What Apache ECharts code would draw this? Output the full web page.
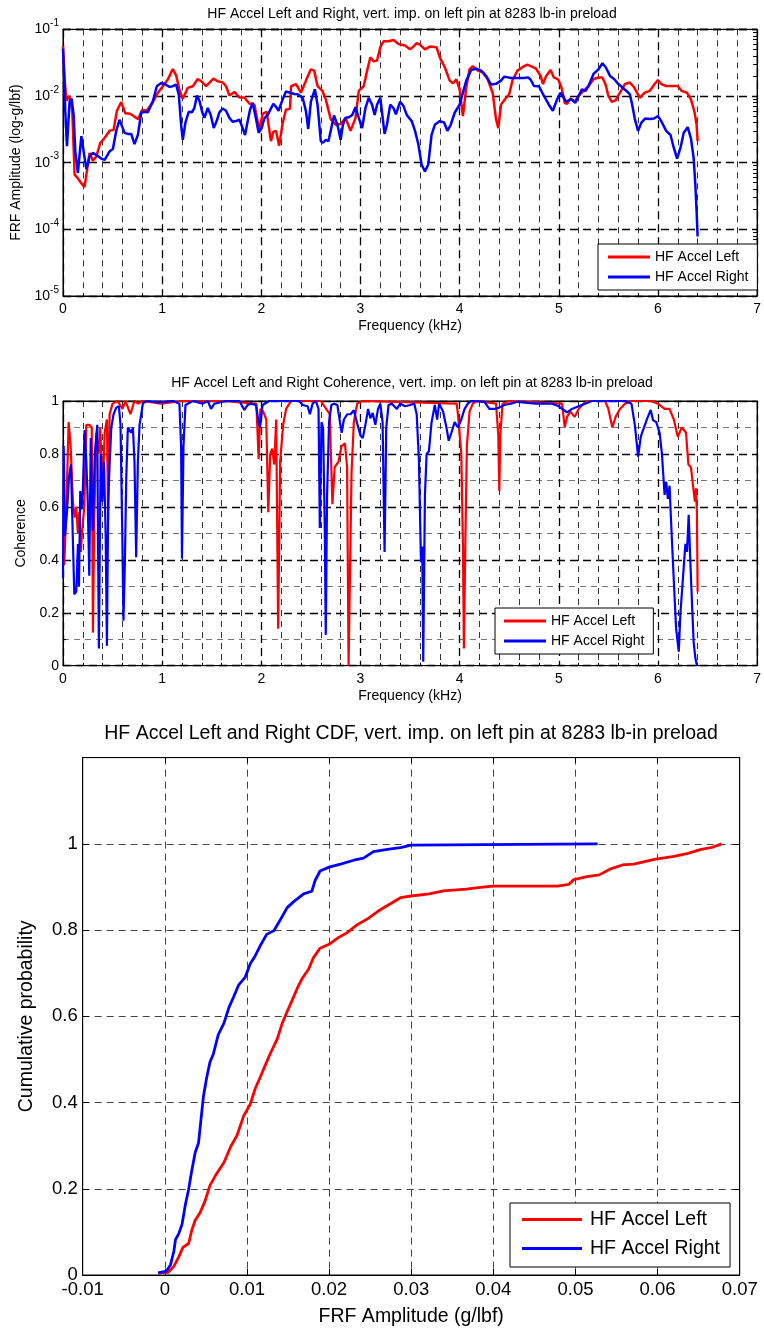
<!DOCTYPE html>
<html><head><meta charset="utf-8">
<script src="https://cdn.jsdelivr.net/npm/echarts@6.0.0/dist/echarts.min.js"></script>
<style>html,body{margin:0;padding:0;background:#fff}#c{width:764px;height:1328px}</style>
</head><body><div id="c"></div>
<script>
// ---------- Data ----------
const seriesNames = ['HF Accel Left', 'HF Accel Right'];
const titles = [
  'HF Accel Left and Right, vert. imp. on left pin at 8283 lb-in preload',
  'HF Accel Left and Right Coherence, vert. imp. on left pin at 8283 lb-in preload',
  'HF Accel Left and Right CDF, vert. imp. on left pin at 8283 lb-in preload'
];

// FRF amplitude (kHz, g/lbf)
const frfLeftFreq = [0,0.013,0.034,0.067,0.094,0.117,0.151,0.18,0.217,0.268,0.302,0.336,0.376,0.419,0.47,0.51,0.544,0.587,0.628,0.678,0.711,0.758,0.799,0.846,0.906,0.956,1.007,1.057,1.107,1.141,1.174,1.208,1.258,1.309,1.359,1.403,1.443,1.517,1.56,1.61,1.644,1.678,1.728,1.779,1.829,1.879,1.93,1.98,2.013,2.054,2.097,2.121,2.148,2.18,2.215,2.248,2.289,2.30,2.35,2.40,2.45,2.50,2.533,2.567,2.617,2.65,2.70,2.75,2.80,2.85,2.90,2.95,2.983,3.033,3.067,3.10,3.133,3.167,3.20,3.233,3.283,3.333,3.383,3.45,3.50,3.533,3.567,3.60,3.65,3.70,3.767,3.80,3.85,3.90,3.933,3.967,4.0,4.033,4.067,4.10,4.133,4.183,4.233,4.283,4.333,4.367,4.39,4.417,4.467,4.50,4.533,4.583,4.633,4.683,4.717,4.767,4.817,4.84,4.873,4.917,4.95,4.993,5.027,5.06,5.083,5.117,5.16,5.20,5.25,5.30,5.35,5.40,5.44,5.473,5.50,5.533,5.573,5.617,5.667,5.717,5.76,5.817,5.867,5.917,5.967,6.0,6.033,6.083,6.15,6.20,6.24,6.293,6.333,6.367,6.39,6.40];
const frfLeftAmp = [0.056,0.021,0.0085,0.010,0.0059,0.00066,0.00058,0.0005,0.00043,0.0014,0.00107,0.00124,0.00197,0.00234,0.0030,0.0031,0.0060,0.0081,0.0055,0.0054,0.0050,0.0045,0.0062,0.0060,0.0081,0.0111,0.0140,0.0176,0.0254,0.0204,0.0124,0.0091,0.0132,0.0140,0.0180,0.0162,0.0140,0.0182,0.0166,0.0160,0.0140,0.0102,0.0115,0.0095,0.0095,0.0077,0.0074,0.0031,0.0054,0.0058,0.0021,0.0029,0.0030,0.0018,0.0039,0.0062,0.0065,0.0140,0.0151,0.0112,0.0170,0.0251,0.024,0.0141,0.0119,0.0089,0.0045,0.0037,0.0038,0.0047,0.0030,0.0047,0.0119,0.0141,0.024,0.038,0.033,0.034,0.054,0.066,0.066,0.069,0.060,0.057,0.050,0.055,0.062,0.059,0.050,0.055,0.054,0.038,0.027,0.0170,0.0155,0.0178,0.0126,0.0050,0.0135,0.0251,0.028,0.024,0.0225,0.0178,0.0112,0.0045,0.0033,0.0074,0.0093,0.0106,0.0172,0.024,0.027,0.0295,0.028,0.026,0.020,0.0151,0.020,0.0245,0.019,0.0178,0.0135,0.0079,0.0076,0.0092,0.0082,0.0100,0.0119,0.0141,0.0178,0.019,0.019,0.0147,0.0100,0.0082,0.0086,0.0112,0.0151,0.0159,0.0135,0.0094,0.0112,0.0119,0.0151,0.0174,0.0151,0.0141,0.0141,0.0141,0.0119,0.0112,0.0089,0.0059,0.0037,0.0021];
const frfRightFreq = [0,0.01,0.023,0.04,0.067,0.087,0.107,0.124,0.15,0.185,0.235,0.268,0.302,0.336,0.386,0.42,0.47,0.503,0.537,0.57,0.587,0.621,0.654,0.688,0.721,0.755,0.789,0.822,0.856,0.906,0.946,0.99,1.03,1.074,1.107,1.141,1.168,1.191,1.208,1.235,1.268,1.30,1.325,1.352,1.376,1.403,1.426,1.46,1.49,1.52,1.55,1.577,1.61,1.644,1.678,1.711,1.745,1.779,1.805,1.836,1.86,1.886,1.913,1.946,1.973,2.003,2.03,2.064,2.09,2.121,2.148,2.174,2.208,2.248,2.29,2.332,2.367,2.417,2.45,2.473,2.50,2.54,2.567,2.60,2.623,2.65,2.677,2.70,2.733,2.767,2.80,2.823,2.85,2.883,2.917,2.95,2.983,3.017,3.05,3.083,3.117,3.143,3.167,3.20,3.243,3.267,3.30,3.333,3.357,3.40,3.433,3.467,3.517,3.55,3.583,3.617,3.65,3.683,3.717,3.75,3.80,3.843,3.877,3.91,3.95,4.0,4.033,4.067,4.117,4.167,4.217,4.267,4.317,4.367,4.417,4.45,4.517,4.583,4.65,4.69,4.717,4.75,4.80,4.85,4.90,4.94,4.983,5.017,5.05,5.073,5.10,5.133,5.167,5.20,5.233,5.267,5.30,5.35,5.40,5.44,5.473,5.517,5.56,5.60,5.64,5.683,5.717,5.74,5.767,5.80,5.833,5.873,5.917,5.96,6.0,6.033,6.083,6.127,6.16,6.193,6.227,6.26,6.30,6.333,6.36,6.377,6.39,6.40];
const frfRightAmp = [0.051,0.0234,0.0059,0.00176,0.0083,0.0091,0.0052,0.00148,0.0007,0.0025,0.0008,0.00124,0.0014,0.0013,0.00115,0.0011,0.00148,0.0016,0.0030,0.0044,0.0044,0.0028,0.0027,0.0027,0.0019,0.0026,0.0056,0.0058,0.0057,0.0083,0.0140,0.0157,0.0150,0.0137,0.0140,0.0148,0.0105,0.0037,0.0022,0.0040,0.0058,0.0057,0.0066,0.0102,0.0085,0.0058,0.0047,0.0066,0.0052,0.0033,0.0042,0.0057,0.0065,0.0060,0.0047,0.0041,0.0042,0.0044,0.0035,0.0026,0.0040,0.0062,0.0079,0.0046,0.0028,0.0033,0.0046,0.0052,0.0062,0.0076,0.0069,0.0060,0.0083,0.0117,0.0112,0.0107,0.0106,0.0094,0.0059,0.0032,0.0082,0.0126,0.0074,0.0021,0.0020,0.0022,0.0021,0.0030,0.0051,0.0037,0.0022,0.0037,0.0047,0.0048,0.0052,0.0068,0.0047,0.0033,0.0066,0.0094,0.0074,0.0052,0.0074,0.0094,0.0027,0.0037,0.0074,0.0066,0.0053,0.0082,0.0071,0.0052,0.0042,0.0030,0.0019,0.00093,0.00074,0.00093,0.0026,0.0037,0.0042,0.0040,0.0030,0.0037,0.0056,0.0074,0.0112,0.0170,0.0245,0.0257,0.024,0.020,0.0148,0.0152,0.0170,0.0195,0.0186,0.0186,0.0186,0.019,0.0175,0.0141,0.0140,0.0100,0.0074,0.0060,0.0089,0.0112,0.0095,0.0082,0.0086,0.0089,0.0079,0.0100,0.0126,0.0119,0.0141,0.0214,0.0251,0.031,0.027,0.020,0.0178,0.0151,0.0135,0.0119,0.0106,0.0074,0.0045,0.0030,0.0040,0.0046,0.0045,0.0046,0.0050,0.0042,0.0030,0.0026,0.00166,0.00115,0.00166,0.0028,0.0034,0.0023,0.00118,0.00047,0.000186,0.000078];

// Coherence (kHz, -)
const cohLeftFreq = [0,0.013,0.034,0.057,0.077,0.10,0.117,0.134,0.15,0.165,0.18,0.195,0.215,0.235,0.265,0.29,0.302,0.315,0.336,0.36,0.376,0.40,0.42,0.443,0.455,0.47,0.50,0.55,0.60,0.63,0.68,0.72,0.76,0.80,0.99,1.2,1.6,1.95,1.973,1.99,2.02,2.05,2.07,2.09,2.11,2.13,2.15,2.17,2.19,2.22,2.25,2.30,2.6,2.69,2.717,2.74,2.777,2.81,2.843,2.865,2.88,2.91,2.933,2.967,3.017,3.97,3.983,4.017,4.033,4.043,4.057,4.073,4.10,4.133,4.17,4.367,4.39,4.40,4.41,4.433,4.5,5.033,5.06,5.083,5.117,5.16,5.20,5.25,5.30,5.467,5.50,5.54,5.573,5.617,5.667,5.733,5.933,6.0,6.067,6.117,6.16,6.20,6.24,6.283,6.307,6.333,6.36,6.373,6.383,6.393,6.40];
const cohLeftVal = [0.50,0.38,0.60,0.92,0.83,0.62,0.56,0.60,0.50,0.58,0.43,0.52,0.60,0.91,0.91,0.90,0.125,0.55,0.88,0.80,0.90,0.65,0.88,0.93,0.55,0.95,0.99,1.0,0.97,1.0,0.95,1.0,0.99,1.0,0.99,1.0,1.0,0.99,0.78,0.97,0.96,0.93,0.58,0.80,0.82,0.76,0.93,0.14,0.77,0.91,0.97,1.0,1.0,0.95,0.61,0.75,0.77,0.83,0.84,0.75,0.0,0.73,0.92,0.99,1.0,0.99,0.95,0.80,0.46,0.065,0.45,0.83,0.96,0.99,1.0,0.99,0.87,0.66,0.87,0.99,1.0,0.99,0.90,0.94,0.96,0.94,0.97,0.99,1.0,1.0,0.97,0.90,0.94,0.97,0.99,1.0,1.0,0.99,0.97,0.97,0.93,0.865,0.90,0.88,0.76,0.75,0.66,0.62,0.67,0.58,0.28];
const cohRightFreq = [0,0.007,0.02,0.04,0.06,0.08,0.10,0.114,0.134,0.151,0.161,0.174,0.188,0.20,0.218,0.235,0.248,0.265,0.28,0.29,0.302,0.32,0.346,0.352,0.362,0.38,0.396,0.413,0.43,0.443,0.456,0.47,0.487,0.51,0.537,0.564,0.58,0.597,0.61,0.624,0.638,0.654,0.671,0.688,0.705,0.721,0.738,0.755,0.772,0.789,0.805,0.839,0.973,1.107,1.174,1.191,1.20,1.215,1.235,1.309,1.409,1.46,1.493,1.527,1.644,1.779,1.829,1.862,1.896,1.946,1.973,1.987,2.013,2.08,2.248,2.383,2.417,2.467,2.49,2.517,2.55,2.577,2.59,2.607,2.623,2.64,2.65,2.663,2.683,2.707,2.733,2.767,2.793,2.81,2.833,2.867,2.90,2.933,2.967,3.0,3.023,3.05,3.077,3.10,3.123,3.15,3.177,3.20,3.223,3.243,3.26,3.283,3.317,3.367,3.40,3.45,3.50,3.543,3.567,3.59,3.61,3.623,3.633,3.65,3.667,3.69,3.717,3.75,3.773,3.793,3.833,3.867,3.89,3.917,3.95,3.983,4.017,4.05,4.083,4.117,4.25,4.30,4.35,4.40,4.45,4.517,4.583,4.767,4.933,5.0,5.05,5.083,5.133,5.20,5.267,5.333,5.667,5.733,5.767,5.80,5.827,5.86,5.893,5.927,5.95,5.983,6.017,6.04,6.067,6.083,6.10,6.117,6.133,6.16,6.183,6.21,6.227,6.25,6.277,6.293,6.31,6.327,6.343,6.36,6.377,6.393];
const cohRightVal = [0.33,0.83,0.49,0.58,0.71,0.76,0.47,0.27,0.28,0.46,0.30,0.66,0.59,0.66,0.89,0.77,0.645,0.34,0.86,0.65,0.51,0.80,0.91,0.52,0.065,0.80,0.62,0.77,0.50,0.075,0.62,0.76,0.90,0.95,0.975,0.98,0.91,0.52,0.17,0.39,0.71,0.90,0.89,0.88,0.90,0.77,0.41,0.77,0.91,0.95,0.99,1.0,0.995,1.0,0.99,0.83,0.405,0.83,0.985,1.0,0.99,1.0,0.97,0.99,1.0,1.0,0.966,0.985,0.99,0.985,0.92,0.90,0.985,1.0,1.0,1.0,0.985,0.98,0.95,0.99,1.0,0.97,0.52,0.92,0.90,0.52,0.116,0.64,0.92,0.985,0.99,0.985,0.92,0.88,0.93,0.95,0.95,0.965,0.915,0.87,0.86,0.91,0.97,0.935,0.955,0.91,0.97,0.99,0.92,0.43,0.90,0.985,0.99,0.97,0.99,0.98,0.985,0.99,0.95,0.77,0.39,0.45,0.015,0.645,0.80,0.81,0.92,0.985,0.93,0.99,0.96,0.90,0.85,0.88,0.92,0.90,0.93,0.97,0.99,1.0,0.997,0.97,0.97,0.975,0.985,0.99,0.997,0.99,0.99,0.98,0.966,0.957,0.97,0.98,0.99,1.0,1.0,0.99,0.91,0.79,0.865,0.90,0.935,0.966,0.928,0.92,0.88,0.80,0.645,0.695,0.63,0.68,0.54,0.32,0.14,0.053,0.20,0.32,0.46,0.43,0.57,0.39,0.24,0.09,0.03,0.0];

// CDF (g/lbf, probability)
const cdfLeftX = [-0.0008,0.0004,0.0011,0.0017,0.0022,0.0029,0.0033,0.0037,0.0043,0.0049,0.0055,0.0063,0.0072,0.0080,0.0088,0.0096,0.0104,0.0110,0.0116,0.0122,0.0128,0.0137,0.0143,0.0149,0.0155,0.0161,0.0167,0.0175,0.0181,0.0189,0.0200,0.0210,0.0222,0.0234,0.0246,0.0259,0.0271,0.0287,0.0300,0.0322,0.0339,0.0367,0.0384,0.0400,0.0478,0.0492,0.0498,0.0514,0.0529,0.0543,0.0557,0.0571,0.0596,0.0620,0.0637,0.0653,0.0665,0.0678];
const cdfLeftY = [0.005,0.006,0.02,0.042,0.064,0.073,0.105,0.127,0.145,0.172,0.208,0.235,0.261,0.297,0.324,0.369,0.396,0.432,0.458,0.485,0.512,0.548,0.584,0.611,0.637,0.664,0.687,0.709,0.736,0.758,0.767,0.781,0.794,0.812,0.825,0.843,0.857,0.875,0.879,0.884,0.891,0.895,0.899,0.902,0.902,0.906,0.917,0.924,0.928,0.942,0.951,0.953,0.964,0.971,0.978,0.987,0.991,1.0];
const cdfRightX = [-0.0008,0.0002,0.0007,0.0011,0.0013,0.0017,0.0021,0.0025,0.0029,0.0033,0.0037,0.0041,0.0043,0.0047,0.0051,0.0055,0.0059,0.0065,0.0072,0.0078,0.0084,0.0090,0.0098,0.0104,0.0110,0.0116,0.0124,0.0133,0.0141,0.0149,0.0157,0.0169,0.0179,0.0183,0.0189,0.0200,0.0214,0.0230,0.0242,0.0254,0.0271,0.0287,0.0300,0.0527];
const cdfRightY = [0.005,0.009,0.024,0.055,0.082,0.096,0.118,0.163,0.199,0.244,0.284,0.306,0.342,0.414,0.458,0.494,0.512,0.557,0.584,0.620,0.646,0.673,0.691,0.722,0.740,0.763,0.790,0.799,0.825,0.852,0.866,0.884,0.890,0.915,0.937,0.946,0.953,0.962,0.967,0.982,0.987,0.991,0.997,1.0];

// ---------- Chart ----------
const zip = (a, b) => a.map((x, i) => [x, b[i]]);
const RED = '#ff0000', BLUE = '#0000ff';
const FONT = 'Liberation Sans, Arial, sans-serif';
const logMinor = [];
for (let e = -5; e < -1; e++) for (let m = 1; m <= 9; m++) logMinor.push(m * Math.pow(10, e));
logMinor.push(0.1);

const grids = [
  { left: 63, top: 29.3, width: 699, height: 266.7 },
  { left: 63, top: 401, width: 699, height: 264.7 },
  { left: 82.7, top: 757.6, width: 657, height: 517.7 }
].map(g => Object.assign({ show: true, borderColor: '#000', borderWidth: 1, backgroundColor: '#fff' }, g));

const majorDash = { type: [8, 5], color: '#000', width: 1.3 };
const lbl = (fs) => ({ color: '#000', fontSize: fs, fontFamily: FONT });
const axLine = { show: true, onZero: false, lineStyle: { color: '#000' } };

function freqAxis(gi) {
  return {
    gridIndex: gi, type: 'value', position: 'bottom', min: 0, max: 7, interval: 1,
    name: 'Frequency (kHz)', nameLocation: 'middle', nameGap: 23,
    nameTextStyle: lbl(14),
    axisLine: axLine,
    axisTick: { inside: true, length: 5, lineStyle: { color: '#000' } },
    minorTick: { show: true, splitNumber: 5, length: 3, lineStyle: { color: '#000' } },
    axisLabel: Object.assign({ margin: 6 }, lbl(14)),
    splitLine: { show: true, lineStyle: majorDash },
    minorSplitLine: { show: true, lineStyle: { type: [6, 5], color: '#333', width: 1 } }
  };
}
function topAxis(gi, min, max, interval) {
  return {
    gridIndex: gi, type: 'value', position: 'top', min, max, interval,
    axisLine: axLine,
    axisTick: { inside: true, length: 5, lineStyle: { color: '#000' } },
    axisLabel: { show: false }, splitLine: { show: false }
  };
}

const option = {
  animation: false,
  backgroundColor: '#fff',
  textStyle: { fontFamily: FONT },
  title: [
    { text: titles[0], left: 412, top: 7, textAlign: 'center', padding: 0, textStyle: Object.assign({ fontWeight: 'normal' }, lbl(14)) },
    { text: titles[1], left: 412, top: 376, textAlign: 'center', padding: 0, textStyle: Object.assign({ fontWeight: 'normal' }, lbl(14)) },
    { text: titles[2], left: 411, top: 724, textAlign: 'center', padding: 0, textStyle: Object.assign({ fontWeight: 'normal' }, lbl(19.5)) }
  ],
  legend: [
    { left: 598, top: 244, orient: 'vertical', padding: [3, 9, 3, 10], itemGap: 0, itemWidth: 42, itemHeight: 3, icon: 'rect',
      borderColor: '#000', borderWidth: 1, backgroundColor: '#fff', data: seriesNames,
      textStyle: Object.assign({ lineHeight: 20 }, lbl(14)) },
    { left: 495, top: 608, orient: 'vertical', padding: [3, 9, 3, 9], itemGap: 0, itemWidth: 42, itemHeight: 3, icon: 'rect',
      borderColor: '#000', borderWidth: 1, backgroundColor: '#fff', data: seriesNames,
      textStyle: Object.assign({ lineHeight: 20 }, lbl(14)) },
    { left: 510, top: 1203, orient: 'vertical', padding: [2, 10, 4, 12], itemGap: 0, itemWidth: 60, itemHeight: 3, icon: 'rect',
      borderColor: '#000', borderWidth: 1, backgroundColor: '#fff', data: seriesNames,
      textStyle: Object.assign({ lineHeight: 29, padding: [0, 0, 0, 3] }, lbl(19.5)) }
  ],
  grid: grids,
  xAxis: [
    freqAxis(0), topAxis(0, 0, 7, 1),
    freqAxis(1), topAxis(1, 0, 7, 1),
    { gridIndex: 2, type: 'value', position: 'bottom', min: -0.01, max: 0.07, interval: 0.01,
      name: 'FRF Amplitude (g/lbf)', nameLocation: 'middle', nameGap: 32, nameTextStyle: lbl(19.5),
      axisLine: axLine,
      axisTick: { inside: true, length: 6, lineStyle: { color: '#000' } },
      axisLabel: Object.assign({ margin: 5 }, lbl(18.5)),
      splitLine: { show: true, lineStyle: { type: [7, 5], color: '#444', width: 1 } } },
    topAxis(2, -0.01, 0.07, 0.01)
  ],
  yAxis: [
    { gridIndex: 0, type: 'log', logBase: 10, min: 1e-5, max: 1e-1, position: 'left',
      name: 'FRF Amplitude (log-g/lbf)', nameLocation: 'middle', nameGap: 38, nameRotate: 90, nameTextStyle: lbl(14),
      axisLine: axLine,
      axisTick: { inside: true, length: 5, lineStyle: { color: '#000' } },
      axisLabel: {
        margin: 4,
        formatter: v => '{b|10}{s|' + Math.round(Math.log10(v)) + '}',
        rich: {
          b: { fontSize: 14, color: '#000', fontFamily: FONT },
          s: { fontSize: 10, color: '#000', fontFamily: FONT, padding: [0, 0, 12, 0] }
        }
      },
      splitLine: { show: true, lineStyle: majorDash } },
    { gridIndex: 0, type: 'log', logBase: 10, min: 1e-5, max: 1e-1, position: 'right',
      axisLine: axLine,
      axisTick: { inside: true, length: 4, customValues: logMinor, lineStyle: { color: '#000' } },
      axisLabel: { show: false }, splitLine: { show: false } },
    { gridIndex: 1, type: 'value', min: 0, max: 1, interval: 0.2, position: 'left',
      name: 'Coherence', nameLocation: 'middle', nameGap: 33, nameRotate: 90, nameTextStyle: lbl(14),
      axisLine: axLine,
      axisTick: { inside: true, length: 5, lineStyle: { color: '#000' } },
      minorTick: { show: true, splitNumber: 2, length: 3, lineStyle: { color: '#000' } },
      axisLabel: Object.assign({ margin: 4 }, lbl(14)),
      splitLine: { show: true, lineStyle: majorDash },
      minorSplitLine: { show: true, lineStyle: { type: [6, 5], color: '#777', width: 1 } } },
    { gridIndex: 1, type: 'value', min: 0, max: 1, interval: 0.2, position: 'right',
      axisLine: axLine,
      axisTick: { inside: true, length: 5, lineStyle: { color: '#000' } },
      axisLabel: { show: false }, splitLine: { show: false } },
    { gridIndex: 2, type: 'value', min: 0, max: 1.2, interval: 0.2, position: 'left',
      name: 'Cumulative probability', nameLocation: 'middle', nameGap: 46, nameRotate: 90, nameTextStyle: lbl(19.5),
      axisLine: axLine,
      axisTick: { inside: true, length: 6, lineStyle: { color: '#000' } },
      axisLabel: Object.assign({ margin: 5, formatter: v => (v > 1.05 ? '' : String(+v.toFixed(1))) }, lbl(18.5)),
      splitLine: { show: true, lineStyle: { type: [7, 5], color: '#444', width: 1 } } },
    { gridIndex: 2, type: 'value', min: 0, max: 1.2, interval: 0.2, position: 'right',
      axisLine: axLine,
      axisTick: { inside: true, length: 6, lineStyle: { color: '#000' } },
      axisLabel: { show: false }, splitLine: { show: false } }
  ],
  series: [
    { name: seriesNames[0], type: 'line', xAxisIndex: 0, yAxisIndex: 0, data: zip(frfLeftFreq, frfLeftAmp), showSymbol: false, lineStyle: { color: RED, width: 2.5 }, itemStyle: { color: RED }, z: 3 },
    { name: seriesNames[1], type: 'line', xAxisIndex: 0, yAxisIndex: 0, data: zip(frfRightFreq, frfRightAmp), showSymbol: false, lineStyle: { color: BLUE, width: 2.5 }, itemStyle: { color: BLUE }, z: 4 },
    { name: seriesNames[0], type: 'line', xAxisIndex: 2, yAxisIndex: 2, data: zip(cohLeftFreq, cohLeftVal), showSymbol: false, lineStyle: { color: RED, width: 2.2 }, itemStyle: { color: RED }, z: 3 },
    { name: seriesNames[1], type: 'line', xAxisIndex: 2, yAxisIndex: 2, data: zip(cohRightFreq, cohRightVal), showSymbol: false, lineStyle: { color: BLUE, width: 2.2 }, itemStyle: { color: BLUE }, z: 4 },
    { name: seriesNames[0], type: 'line', xAxisIndex: 4, yAxisIndex: 4, data: zip(cdfLeftX, cdfLeftY), showSymbol: false, lineStyle: { color: RED, width: 2.8 }, itemStyle: { color: RED }, z: 3 },
    { name: seriesNames[1], type: 'line', xAxisIndex: 4, yAxisIndex: 4, data: zip(cdfRightX, cdfRightY), showSymbol: false, lineStyle: { color: BLUE, width: 2.8 }, itemStyle: { color: BLUE }, z: 4 }
  ]
};

const chart = echarts.init(document.getElementById('c'), null, { renderer: 'canvas' });
chart.setOption(option);
</script></body></html>
